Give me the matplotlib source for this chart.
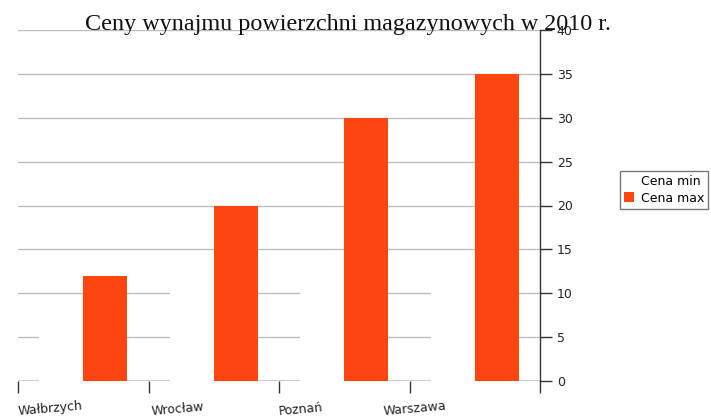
import matplotlib
matplotlib.use("Agg")
import matplotlib.pyplot as plt
import matplotlib.transforms as mtransforms
from matplotlib.patches import Patch
import numpy as np

title = "Ceny wynajmu powierzchni magazynowych w 2010 r."
cities = ["Wałbrzych", "Wrocław", "Poznań", "Warszawa"]
cena_min = [8, 12, 12, 13]
cena_max = [12, 20, 30, 35]
series_names = ["Cena min", "Cena max"]
yticks = [0, 5, 10, 15, 20, 25, 30, 35, 40]

fig = plt.figure(figsize=(7.11, 4.17), dpi=100)
ax = fig.add_axes([18/711, 1-381/417, (540-18)/711, (381-30)/417])

x = np.arange(len(cities))
w = 0.337
ax.bar(x + 0.5 - w/2, cena_min, width=w, color="white", zorder=2)
ax.bar(x + 0.5 + w/2, cena_max, width=w, color="#ff4510", zorder=2)

ax.set_xlim(0, len(cities))
ax.set_ylim(0, 40)
ax.set_yticks(yticks)
ax.yaxis.tick_right()
ax.set_axisbelow(True)
ax.yaxis.grid(True, color="#bdbdbd", linewidth=1.0, zorder=0)
ax.axhline(0, color="#333333", linewidth=1.0, zorder=1)
for s in ["left", "top", "bottom"]:
    ax.spines[s].set_visible(False)
ax.spines["right"].set_color("#333333")
ax.spines["right"].set_linewidth(1.0)
ax.tick_params(axis="y", direction="out", length=8.6, width=1.0, color="#333333",
               labelsize=9, labelcolor="#222222", pad=3.5)
ax.set_xticks(np.arange(len(cities) + 1))
ax.set_xticklabels([])
ax.tick_params(axis="x", direction="out", length=8.6, width=1.0, color="#333333")

label_offsets = [0.0, 0.02, 0.0, -0.2]
trans = mtransforms.blended_transform_factory(ax.transData, fig.transFigure)
for i, c in enumerate(cities):
    ax.text(i + label_offsets[i], 1 - 415/417, c, transform=trans, ha="left",
            va="baseline", rotation=5, fontsize=9, color="#222222",
            rotation_mode="anchor")

fig.text(348/711, 1 - 30/417, title, ha="center", va="baseline",
         fontsize=17.4, family="Liberation Serif", color="#111111")

handles = [Patch(facecolor="white", edgecolor="none"),
           Patch(facecolor="#ff4510", edgecolor="none")]
leg = fig.legend(handles, series_names, loc="upper left",
                 bbox_to_anchor=(620/711, 1 - 171/417), fontsize=9,
                 frameon=True, fancybox=False, handlelength=0.8,
                 handleheight=0.8, handletextpad=0.5, borderpad=0.35,
                 labelspacing=0.25, borderaxespad=0)
leg.get_frame().set_edgecolor("#555555")
leg.get_frame().set_linewidth(1.0)

fig.savefig("out.png", dpi=100)
